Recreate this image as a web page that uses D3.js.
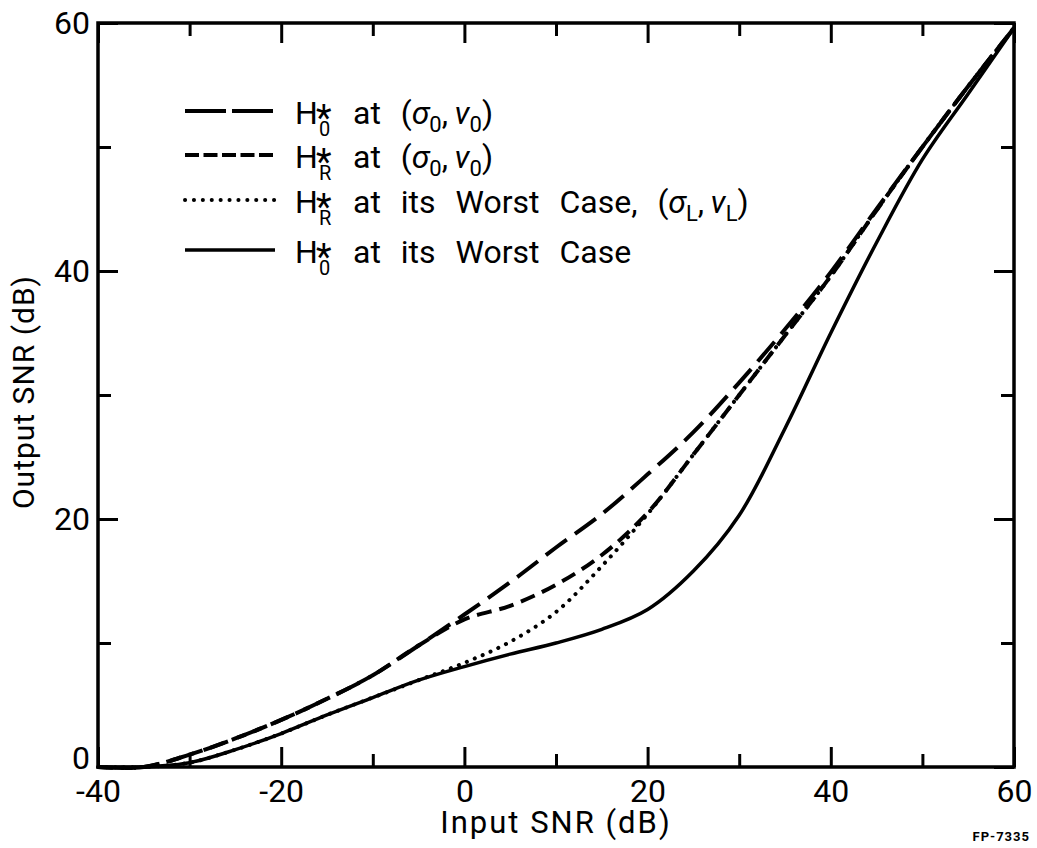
<!DOCTYPE html>
<html>
<head>
<meta charset="utf-8">
<script src="https://cdn.jsdelivr.net/npm/d3@7"></script>
<style>
  body { margin: 0; background: #fff; }
  text { font-family: Roboto, "DejaVu Sans", sans-serif; fill: #000; }
</style>
</head>
<body>
<div id="chart"></div>
<script>
"use strict";

// input SNR grid (dB)
var inputSnr = [-40, -35, -30, -25, -20, -15, -10, -5, 0, 5, 10, 15, 20, 25, 30, 35, 40, 45, 50, 55, 60];

// output SNR (dB)
var h0Nominal = [0, 0, 1.0, 2.3, 3.8, 5.5, 7.4, 9.8, 12.3, 14.9, 17.7, 20.4, 23.6, 27.0, 31.0, 35.3, 39.9, 45.0, 50.0, 54.9, 59.6];
var hrNominal = [0, 0, 1.0, 2.3, 3.8, 5.5, 7.4, 9.8, 11.9, 13.0, 14.7, 17.1, 20.5, 25.2, 30.0, 34.8, 39.6, 44.9, 50.0, 54.9, 59.6];
var hrWorst   = [0, 0, 0.35, 1.4, 2.7, 4.2, 5.6, 7.0, 8.4, 10.1, 12.5, 16.2, 20.4, 25.2, 30.0, 34.8, 39.6, 44.9, 50.0, 54.9, 59.6];
var h0Worst   = [0, 0, 0.35, 1.4, 2.7, 4.2, 5.6, 7.0, 8.1, 9.1, 10.0, 11.1, 12.7, 15.8, 20.3, 27.3, 35.0, 42.3, 49.0, 54.3, 59.6];

var xTicks = [-40, -30, -20, -10, 0, 10, 20, 30, 40, 50, 60];
var yTicks = [0, 10, 20, 30, 40, 50, 60];

var legendSubs = ["0", "R", "R", "0"];
var legendTexts = ["at (σ_0,\u2009ν_0)", "at (σ_0,\u2009ν_0)", "at its Worst Case, (σ_L,\u2009ν_L)", "at its Worst Case"];

var width = 1037, height = 848;
var plotL = 98, plotR = 1014, plotT = 23, plotB = 767;

var svg = d3.select("#chart").append("svg")
    .attr("width", width)
    .attr("height", height);

var x = d3.scaleLinear().domain([-40, 60]).range([plotL, plotR]);
var y = d3.scaleLinear().domain([0, 60]).range([plotB, plotT]);

var styles = [
    { dash: "26 10", cap: "butt", w: 4, legendDash: "41 6" },
    { dash: "15 8", cap: "butt", w: 4, legendDash: "14 4.5" },
    { dash: "0.1 8.5", cap: "round", w: 4, legendDash: "0.1 8.8" },
    { dash: null, cap: "butt", w: 3.5, legendDash: null }
];
var series = [h0Nominal, hrNominal, hrWorst, h0Worst];

// axes, ticks inside the frame
function tickLengths(sel, attr, k) {
    sel.selectAll(".tick line")
        .attr("stroke-width", 3)
        .attr(attr, function (d) { return d % 20 === 0 ? k * 20 : k * 13; });
}
var fmt = function (d) { return d % 20 === 0 ? String(d) : ""; };

var gx = svg.append("g").attr("transform", "translate(0," + plotB + ")")
    .call(d3.axisBottom(x).tickValues(xTicks).tickSize(-20).tickPadding(12).tickFormat(fmt));
tickLengths(gx, "y2", -1);
var gxt = svg.append("g").attr("transform", "translate(0," + plotT + ")")
    .call(d3.axisTop(x).tickValues(xTicks).tickSize(-20).tickFormat(""));
tickLengths(gxt, "y2", 1);
var gy = svg.append("g").attr("transform", "translate(" + plotL + ",0)")
    .call(d3.axisLeft(y).tickValues(yTicks).tickSize(-20).tickPadding(8).tickFormat(fmt));
tickLengths(gy, "x2", 1);
var gyr = svg.append("g").attr("transform", "translate(" + plotR + ",0)")
    .call(d3.axisRight(y).tickValues(yTicks).tickSize(-20).tickFormat(""));
tickLengths(gyr, "x2", -1);

svg.selectAll(".domain").remove();
svg.selectAll(".tick text").attr("font-size", 32).attr("font-family", "Roboto, sans-serif").attr("fill", "#000");
gy.selectAll(".tick text").filter(function (d) { return d === 0; }).attr("dy", "0.05em");

svg.append("rect")
    .attr("x", plotL).attr("y", plotT)
    .attr("width", plotR - plotL).attr("height", plotB - plotT)
    .attr("fill", "none").attr("stroke", "#000").attr("stroke-width", 3.5);

// curves
var line = d3.line()
    .x(function (d) { return x(d[0]); })
    .y(function (d) { return y(Math.max(0, d[1])); })
    .curve(d3.curveCatmullRom.alpha(0.5));

series.forEach(function (vals, i) {
    var pts = inputSnr.map(function (v, j) { return [v, vals[j]]; });
    svg.append("path")
        .datum(pts)
        .attr("d", line)
        .attr("fill", "none")
        .attr("stroke", "#000")
        .attr("stroke-width", styles[i].w)
        .attr("stroke-linecap", styles[i].cap)
        .attr("stroke-dasharray", styles[i].dash);
});

// legend
var legendY = [111, 155, 200, 250];
legendTexts.forEach(function (txt, i) {
    var g = svg.append("g").attr("transform", "translate(0," + legendY[i] + ")");
    g.append("line")
        .attr("x1", 185).attr("x2", 275)
        .attr("stroke", "#000")
        .attr("stroke-width", styles[i].w)
        .attr("stroke-linecap", styles[i].cap)
        .attr("stroke-dasharray", styles[i].legendDash);

    var t = g.append("text").attr("font-size", 32);
    t.append("tspan").attr("x", 295).attr("y", 13).text("H");
    t.append("tspan").attr("x", 316).attr("y", 19).attr("font-size", 36).text("*");
    t.append("tspan").attr("x", 319).attr("y", 25).attr("font-size", 20).text(legendSubs[i]);

    var rest = t.append("tspan").attr("x", 353).attr("y", 13).attr("word-spacing", 12);
    var parts = txt.split(/_(.)/);
    var lowered = false;
    parts.forEach(function (p, j) {
        if (p === "") return;
        if (j % 2 === 1) {
            rest.append("tspan").attr("font-size", 22).attr("dy", 8).text(p);
            lowered = true;
            return;
        }
        // greek letters slanted like the lettering
        p.split(/([σν])/).forEach(function (c) {
            if (c === "") return;
            var s = rest.append("tspan").text(c);
            if (lowered) { s.attr("dy", -8); lowered = false; }
            if (c === "σ" || c === "ν") s.attr("font-style", "italic");
        });
    });
});

// axis titles
svg.append("text")
    .attr("x", 556).attr("y", 833)
    .attr("text-anchor", "middle")
    .attr("font-size", 31)
    .attr("letter-spacing", 2)
    .text("Input SNR (dB)");

svg.append("text")
    .attr("transform", "translate(34,392) rotate(-90)")
    .attr("text-anchor", "middle")
    .attr("font-size", 30)
    .attr("letter-spacing", 1)
    .text("Output SNR (dB)");

svg.append("text")
    .attr("x", 1030).attr("y", 841)
    .attr("text-anchor", "end")
    .attr("font-size", 13)
    .attr("font-weight", "bold")
    .attr("letter-spacing", 1)
    .text("FP-7335");
</script>
</body>
</html>
